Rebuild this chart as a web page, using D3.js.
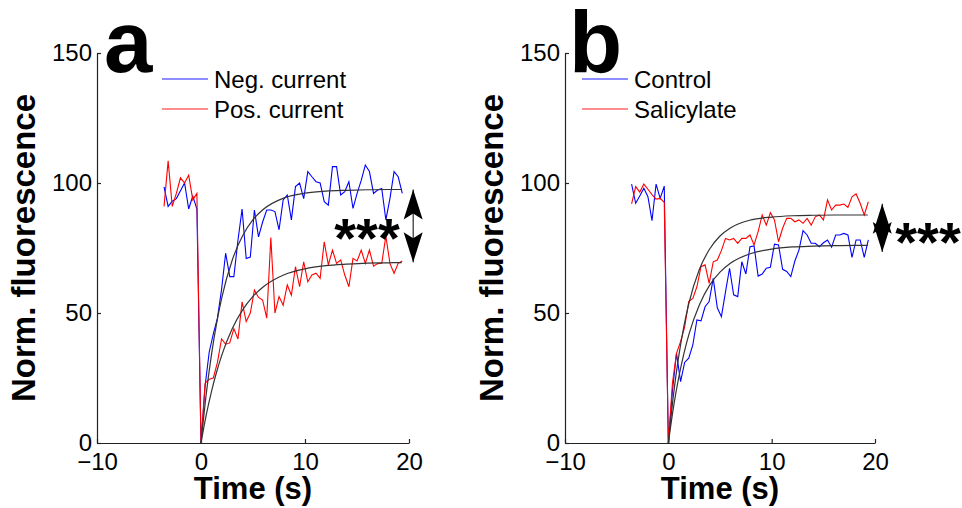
<!DOCTYPE html>
<html>
<head>
<meta charset="utf-8">
<script src="https://cdn.jsdelivr.net/npm/d3@7"></script>
<style>
  body { margin: 0; background: #fff; }
  svg { font-family: "Liberation Sans", Arial, Helvetica, sans-serif; }
</style>
</head>
<body>
<script>
// sampling interval (s) of the imaging frames
var dt = 0.395;
// frames -9 .. 49, frame 0 is the stimulus
var frames = d3.range(-9, 50);

// panel a
var negCurrent = [98.5, 91, 93, 94, 97, 100, 90, 95, 90, 0,
  22, 35, 42, 48, 59, 73, 64, 64, 78, 90, 71, 71.5, 89.6, 79.3, 85, 89.6, 89.6, 89, 82, 93.5,
  95.4, 85.8, 98.6, 100, 94, 104.4, 102.4, 100.5, 100, 92.8, 91.5, 106.3, 106.3, 95.4, 96.7,
  100.5, 90.2, 96, 101, 106.9, 104.4, 96, 97.3, 97.9, 85.8, 94.1, 104.4, 102.4, 96];
var posCurrent = [91, 108.5, 91, 96, 102, 100, 103, 93.5, 96, 0,
  23, 24.5, 25, 31, 40, 38, 38.5, 44, 40, 54.3, 46.7, 50, 58.8, 56, 55, 48, 79, 50, 56.3,
  53, 60.8, 56.9, 67.8, 60.1, 69.7, 62, 64.6, 65.3, 63.3, 77.4, 68.5, 74.2, 69.1, 70.4, 64.6,
  60.1, 71, 70, 74.2, 69.1, 74.2, 68, 69, 69.1, 79.6, 69, 65.3, 69.1, 70];

// panel b
var control = [99.6, 92.2, 95, 98, 94.7, 85.5, 99.6, 94.1, 98.8, 0,
  20, 34.5, 23.6, 31, 32.6, 37.7, 47.3, 47, 52.4, 54.4, 63.3, 52, 48.6, 58, 67.2, 57, 56.3,
  69.7, 65, 75.5, 75.8, 64.2, 65, 67.2, 67.6, 76.5, 76.2, 66.8, 66, 64, 70, 74.2, 81.7, 80,
  76.8, 76.8, 75.5, 77, 78.1, 75.3, 80, 80, 80.6, 80, 71.4, 78.1, 78.1, 71.4, 78.1];
var salicylate = [92, 98.6, 96.5, 99.6, 97.6, 95.5, 93.8, 94.1, 92.6, 0,
  23, 34.5, 39, 44.7, 54.4, 55.6, 60.1, 67.8, 68.5, 61.4, 69.7, 70.4, 74, 78.7, 78.1, 78.7,
  76.8, 78.7, 78.7, 80, 76.2, 81.3, 87.7, 83.8, 88.6, 85.8, 77.4, 82.6, 86.4, 86.4, 85.1,
  85.8, 84.5, 86.4, 83.8, 87, 87.7, 85.8, 93.5, 89.6, 91.5, 91.5, 91.9, 90.6, 94.7, 95.8,
  92.2, 87.7, 92.8];

// exponential fits
var fitTimes = [0, 0.5, 1, 1.5, 2, 3, 4, 5, 6, 8, 10, 12, 14, 16, 18, 19.3];
var fitNeg = [0, 18.7, 33.8, 46.0, 55.9, 70.3, 79.7, 85.9, 89.9, 94.3, 96.1, 96.9, 97.2, 97.4, 97.5, 97.5];
var fitPos = [0, 10.7, 19.7, 27.3, 33.8, 43.9, 51.2, 56.4, 60.1, 64.7, 67.0, 68.2, 68.8, 69.2, 69.3, 69.4];
var fitControl = [0, 13.8, 25.1, 34.3, 41.9, 53.1, 60.7, 65.7, 69.1, 72.9, 74.6, 75.4, 75.7, 75.9, 76.0, 76.0];
var fitSalicylate = [0, 18.6, 33.2, 44.8, 53.9, 66.7, 74.6, 79.6, 82.7, 85.8, 86.9, 87.4, 87.6, 87.7, 87.7, 87.7];

var xTicks = [-10, 0, 10, 20];
var yTicks = [0, 50, 100, 150];

// significance arrows: [time, top value, bottom value]
var arrowA = [20.4, 97.5, 69.5];
var arrowB = [20.7, 92, 73.5];

var svg = d3.select("body").append("svg")
    .attr("width", 962)
    .attr("height", 508);

function drawPanel(p) {
  var x = d3.scaleLinear().domain([-10, 20]).range([p.left, p.right]);
  var y = d3.scaleLinear().domain([0, 150]).range([443, 53]);
  var g = svg.append("g");

  // axes, ticks pointing inwards
  var xa = g.append("g")
      .attr("transform", "translate(0,443)")
      .call(d3.axisBottom(x).tickValues(xTicks).tickSize(-4).tickSizeOuter(0).tickPadding(10));
  var ya = g.append("g")
      .attr("transform", "translate(" + p.left + ",0)")
      .call(d3.axisLeft(y).tickValues(yTicks).tickSize(-4).tickSizeOuter(0).tickPadding(5));
  [xa, ya].forEach(function(a) {
    a.selectAll("path, line").attr("stroke", "#222").attr("stroke-width", 1.2);
    a.selectAll("text").attr("font-size", 24).attr("fill", "#000")
      .attr("font-family", "Liberation Sans, Arial, sans-serif");
  });

  var line = d3.line()
      .x(function(d) { return x(d[0]); })
      .y(function(d) { return y(d[1]); });
  var fitLine = d3.line()
      .x(function(d) { return x(d[0]); })
      .y(function(d) { return y(d[1]); })
      .curve(d3.curveMonotoneX);

  p.series.forEach(function(s) {
    g.append("path")
        .datum(frames.map(function(f, i) { return [f * dt, s.values[i]]; }))
        .attr("fill", "none")
        .attr("stroke", s.color)
        .attr("stroke-width", 1.1)
        .attr("d", line);
  });
  p.fits.forEach(function(f) {
    g.append("path")
        .datum(fitTimes.map(function(t, i) { return [t, f[i]]; }))
        .attr("fill", "none")
        .attr("stroke", "#333")
        .attr("stroke-width", 1.2)
        .attr("d", fitLine);
  });

  // legend
  p.legend.forEach(function(s, i) {
    var ly = 79 + i * 30;
    g.append("line")
        .attr("x1", p.legX).attr("x2", p.legX + 46)
        .attr("y1", ly).attr("y2", ly)
        .attr("stroke", s.color).attr("stroke-opacity", 0.6).attr("stroke-width", 1.5);
    g.append("text")
        .attr("x", p.legX + 52).attr("y", ly + 9)
        .attr("font-size", 24)
        .text(s.name);
  });

  // double arrow
  var ax = x(p.arrow[0]), yt = y(p.arrow[1]), yb = y(p.arrow[2]);
  var hl = 30, hw = 9.5, notch = 6;
  g.append("line")
      .attr("x1", ax).attr("x2", ax).attr("y1", yt).attr("y2", yb)
      .attr("stroke", "#000").attr("stroke-width", 1);
  g.append("path")
      .attr("d", "M" + ax + "," + yt + "L" + (ax - hw) + "," + (yt + hl) + "L" + ax + "," + (yt + hl - notch) +
                 "L" + (ax + hw) + "," + (yt + hl) + "Z")
      .attr("fill", "#000");
  g.append("path")
      .attr("d", "M" + ax + "," + yb + "L" + (ax - hw) + "," + (yb - hl) + "L" + ax + "," + (yb - hl + notch) +
                 "L" + (ax + hw) + "," + (yb - hl) + "Z")
      .attr("fill", "#000");

  g.append("text")
      .attr("x", p.starX).attr("y", p.starY)
      .attr("text-anchor", "middle")
      .attr("font-size", 56).attr("font-weight", "bold")
      .text("***");

  // panel letter
  g.append("text")
      .attr("x", p.letterX).attr("y", 72)
      .attr("font-size", 87).attr("font-weight", "bold")
      .text(p.letter);

  // axis titles
  g.append("text")
      .attr("x", (p.left + p.right) / 2).attr("y", 499)
      .attr("text-anchor", "middle")
      .attr("font-size", 31).attr("font-weight", "bold")
      .text("Time (s)");
  g.append("text")
      .attr("transform", "translate(" + p.yLabelX + ",248) rotate(-90)")
      .attr("text-anchor", "middle")
      .attr("font-size", 33).attr("font-weight", "bold")
      .text("Norm. fluorescence");
}

drawPanel({
  left: 97, right: 409, letter: "a", letterX: 104, yLabelX: 35, legX: 162,
  series: [{color: "#0000ff", values: negCurrent}, {color: "#ff0000", values: posCurrent}],
  fits: [fitNeg, fitPos],
  legend: [{name: "Neg. current", color: "#0000ff"}, {name: "Pos. current", color: "#ff0000"}],
  arrow: arrowA, starX: 367, starY: 257
});
drawPanel({
  left: 565, right: 875, letter: "b", letterX: 569, yLabelX: 503, legX: 582,
  series: [{color: "#0000ff", values: control}, {color: "#ff0000", values: salicylate}],
  fits: [fitControl, fitSalicylate],
  legend: [{name: "Control", color: "#0000ff"}, {name: "Salicylate", color: "#ff0000"}],
  arrow: arrowB, starX: 928, starY: 261
});
</script>
</body>
</html>
